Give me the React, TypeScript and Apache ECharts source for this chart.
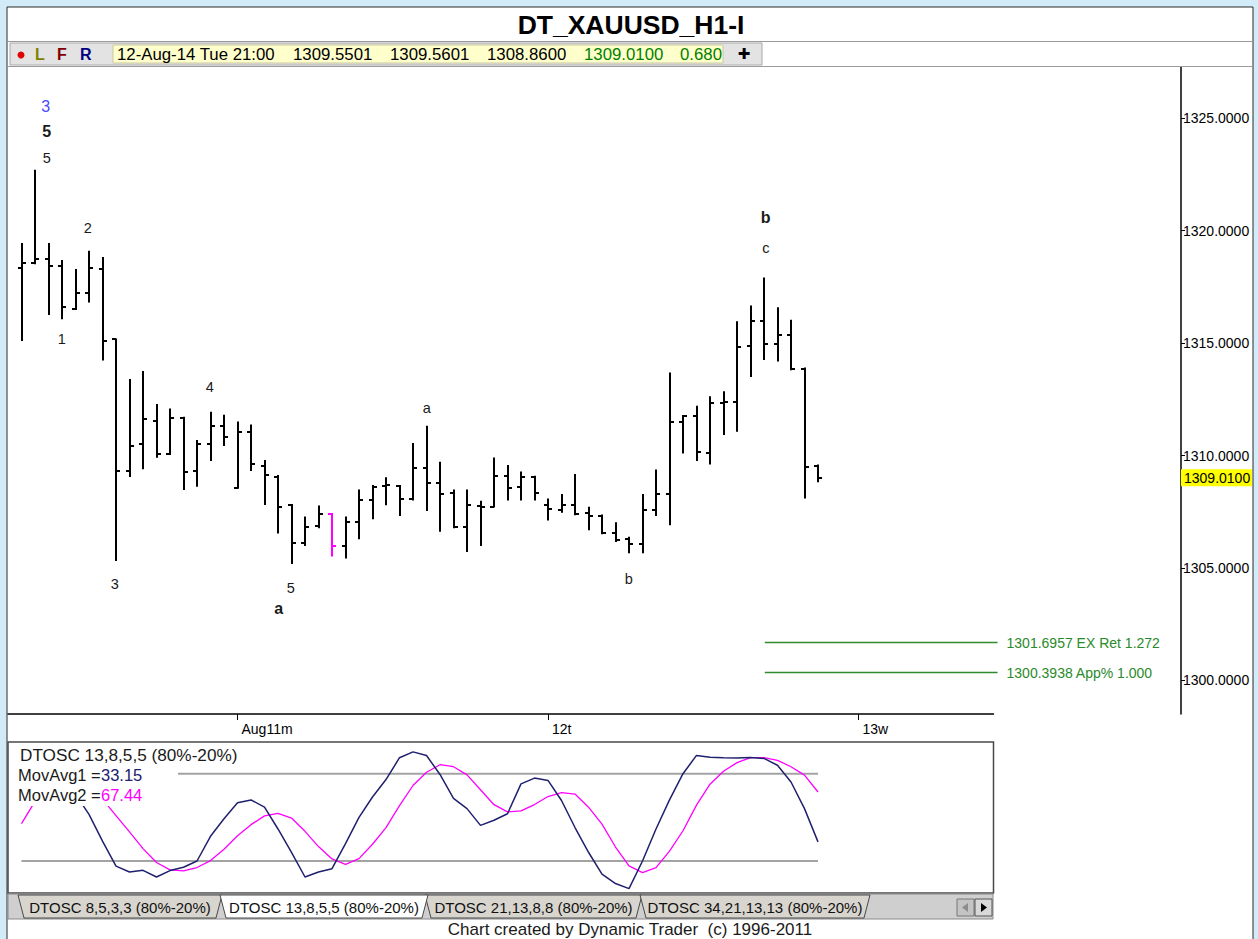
import React, { useEffect, useRef } from "react";
import * as echarts from "echarts";

// ---------- DATA ----------
const barOpen = [1318.35, 1318.54, 1318.75, 1318.42, 1316.51, 1317.24, 1318.30, 1315.16, 1309.33, 1310.50,
  1311.53, 1310.07, 1311.68, 1309.33, 1310.50, 1311.33, 1308.57, 1311.06, 1309.53, 1309.06,
  1307.80, 1306.13, 1306.87, 1307.40, 1305.98, 1307.03, 1308.02, 1308.64, 1308.64, 1308.05,
  1309.46, 1308.76, 1308.32, 1306.81, 1307.77, 1307.73, 1309.10, 1308.61, 1309.06, 1307.80,
  1307.58, 1307.80, 1307.46, 1307.33, 1306.54, 1306.27, 1306.07, 1307.58, 1308.27, 1311.47,
  1311.76, 1310.10, 1312.32, 1312.39, 1314.88, 1315.99, 1314.94, 1315.36, 1313.83, 1309.5501];
const barHigh = [1319.40, 1322.66, 1319.40, 1318.64, 1318.24, 1319.06, 1318.78, 1315.16, 1313.36, 1313.71,
  1312.24, 1312.05, 1311.68, 1310.64, 1311.90, 1311.77, 1311.47, 1311.33, 1309.76, 1309.09,
  1307.80, 1307.25, 1307.73, 1307.40, 1307.24, 1308.44, 1308.64, 1308.99, 1308.64, 1310.51,
  1311.28, 1309.68, 1308.44, 1308.44, 1307.95, 1309.87, 1309.53, 1309.25, 1309.06, 1308.05,
  1308.24, 1309.13, 1307.68, 1307.33, 1306.99, 1306.35, 1308.24, 1309.33, 1313.65, 1311.76,
  1312.17, 1312.59, 1312.81, 1315.92, 1316.62, 1317.87, 1316.54, 1315.99, 1313.87, 1309.5601];
const barLow = [1315.13, 1318.54, 1316.29, 1316.10, 1316.51, 1316.85, 1314.27, 1305.36, 1309.09, 1309.43,
  1309.95, 1310.07, 1308.51, 1308.66, 1309.80, 1310.47, 1308.57, 1309.36, 1307.84, 1306.58,
  1305.22, 1306.02, 1306.81, 1305.55, 1305.47, 1306.32, 1307.21, 1307.83, 1307.36, 1308.05,
  1307.58, 1306.66, 1306.81, 1305.76, 1306.02, 1307.73, 1308.05, 1308.05, 1308.05, 1307.16,
  1307.50, 1307.39, 1306.72, 1306.54, 1306.20, 1305.70, 1305.70, 1307.36, 1306.94, 1310.13,
  1309.80, 1309.65, 1310.96, 1311.10, 1313.53, 1314.29, 1314.22, 1313.83, 1308.13, 1308.86];
const barClose = [1318.54, 1318.75, 1318.42, 1316.62, 1317.24, 1318.35, 1315.09, 1309.33, 1310.44, 1311.62,
  1310.07, 1311.68, 1309.25, 1310.50, 1311.33, 1310.81, 1311.06, 1309.61, 1309.13, 1307.72,
  1306.13, 1306.84, 1307.39, 1305.98, 1307.03, 1308.02, 1308.61, 1308.69, 1308.05, 1309.46,
  1308.76, 1308.27, 1306.81, 1307.80, 1307.73, 1309.10, 1308.57, 1309.03, 1308.35, 1307.61,
  1307.80, 1307.39, 1307.31, 1306.54, 1306.24, 1306.07, 1307.58, 1308.27, 1311.47, 1311.76,
  1310.17, 1312.32, 1312.39, 1314.81, 1315.99, 1314.94, 1315.36, 1313.83, 1309.47, 1309.01];
const highlightBar = 23;

const dayTicks = [16, 39, 62];
const dayLabels = ["Aug11m", "12t", "13w"];
const priceTicks = [1300, 1305, 1310, 1315, 1320, 1325];

const waveText = ["3", "5", "5", "2", "1", "3", "4", "5", "a", "a", "b", "b", "c"];
const waveX = [1.8, 1.87, 1.87, 4.91, 2.99, 6.91, 13.95, 19.95, 19.06, 30.02, 44.99, 55.13, 55.13];
const waveY = [1325.53, 1324.38, 1323.22, 1320.11, 1315.18, 1304.29, 1313.04, 1304.11, 1303.18, 1312.11, 1304.51, 1320.6, 1319.22];
const waveBold = [false, true, false, false, false, false, false, false, true, false, false, true, false];

const targetPrices = [1301.6957, 1300.3938];
const targetLabels = ["1301.6957 EX Ret 1.272", "1300.3938 App% 1.000"];
const targetFrom = 55.06;
const targetTo = 72.3;
const lastClose = 1309.01;

const oscFast = [null, null, null, 72, 66, 52, 33.6, 16.5, 12.4, 13.6,
  9, 13.4, 15.7, 20, 37, 49, 60, 62, 57, 42,
  26, 9, 12.4, 14.7, 32, 50, 64, 76, 91, 95,
  92.5, 79.5, 63, 56, 44.5, 48, 52.5, 73, 77, 75.4,
  61.6, 43, 26, 11, 4.5, 1, 20, 42, 62, 80,
  92.6, 91.3, 91, 90.8, 91.2, 90.5, 85.8, 74.3, 56, 33.15];
const oscSlow = [45.7, 61, 67, 70, 70, 67, 62.5, 51.2, 40, 28.5,
  19, 13.9, 13.2, 15.5, 20.3, 28.1, 37.4, 45, 51, 52.8,
  49.5, 40.4, 29.9, 21.4, 17.7, 21.6, 31.5, 43, 58, 71.9,
  81, 86.2, 84.8, 79.2, 69, 58.7, 53.8, 54.4, 58.8, 64.3,
  67, 66, 57, 45.4, 29.6, 16.6, 12, 15.4, 26.8, 40.8,
  58.4, 72.8, 81.7, 87.6, 91, 91.1, 89.2, 84.8, 79, 67.44];
const oscLevels = [80, 20];

const tabNames = ["DTOSC 8,5,3,3 (80%-20%)", "DTOSC 13,8,5,5 (80%-20%)", "DTOSC 21,13,8,8 (80%-20%)", "DTOSC 34,21,13,13 (80%-20%)"];
const activeTab = 1;

// ---------- STYLE ----------
const SANS = '"Liberation Sans", Arial, sans-serif';
const NAVY = "#20206e";
const MAGENTA = "#ff00ff";
const GREEN = "#2e8b2e";

function txt(x: number, y: number, text: string, font: string, fill: string, align = "left", z = 20) {
  return {
    type: "text", x, y, z,
    style: { text, font, fill, textAlign: align, align, textVerticalAlign: "middle", verticalAlign: "middle" },
  };
}

export default function App() {
  const ref = useRef<HTMLDivElement>(null);
  useEffect(() => {
    if (!ref.current) return;
    const chart = echarts.init(ref.current, undefined, { renderer: "svg" });

    const bars = barOpen.map((o, i) => [i, o, barHigh[i], barLow[i], barClose[i]]);
    const waves = waveX.map((x, i) => [x, waveY[i]]);
    const targets = targetPrices.map((p) => [targetFrom, p]);

    const graphics: any[] = [];
    // white panel
    graphics.push({ type: "rect", z: -5, shape: { x: 7, y: 7, width: 1246, height: 940 }, style: { fill: "#ffffff", stroke: "#2b2b2b", lineWidth: 1 } });
    // title
    graphics.push(txt(631, 25, "DT_XAUUSD_H1-I", `bold 26.5px ${SANS}`, "#000", "center"));
    graphics.push({ type: "line", z: 1, shape: { x1: 8, y1: 41.5, x2: 1252, y2: 41.5 }, style: { stroke: "#9a9a9a", lineWidth: 1 } });
    // toolbar
    graphics.push({ type: "rect", z: 1, shape: { x: 10, y: 43, width: 752, height: 22 }, style: { fill: "#e3e3e3", stroke: "#a8a8a8", lineWidth: 1 } });
    graphics.push({ type: "rect", z: 2, shape: { x: 113, y: 45, width: 610, height: 18 }, style: { fill: "#ffffcc", stroke: "#c8c8a0", lineWidth: 1 } });
    graphics.push({ type: "circle", z: 3, shape: { cx: 21, cy: 55, r: 3.5 }, style: { fill: "#e00000" } });
    graphics.push(txt(35, 54, "L", `bold 16px ${SANS}`, "#808000"));
    graphics.push(txt(57, 54, "F", `bold 16px ${SANS}`, "#800000"));
    graphics.push(txt(80, 54, "R", `bold 16px ${SANS}`, "#000080"));
    const tb = ["12-Aug-14 Tue 21:00", "1309.5501", "1309.5601", "1308.8600", "1309.0100", "0.680"];
    const tbx = [117, 293, 390, 487, 584, 680];
    tb.forEach((t, i) => graphics.push(txt(tbx[i], 54, t, `16.8px ${SANS}`, i >= 4 ? "#008000" : "#000")));
    graphics.push(txt(744, 54, "✚", `bold 15px "DejaVu Sans"`, "#000", "center"));
    graphics.push({ type: "line", z: 1, shape: { x1: 8, y1: 66.5, x2: 1252, y2: 66.5 }, style: { stroke: "#9a9a9a", lineWidth: 1 } });

    // oscillator legend boxes
    graphics.push({ type: "rect", z: 15, shape: { x: 9, y: 743, width: 235, height: 22 }, style: { fill: "#fff" } });
    graphics.push({ type: "rect", z: 15, shape: { x: 9, y: 765, width: 169, height: 41 }, style: { fill: "#fff" } });
    graphics.push(txt(20, 755, "DTOSC 13,8,5,5 (80%-20%)", `17.2px ${SANS}`, "#1a1a1a"));
    graphics.push(txt(18, 775, "MovAvg1 =", `16.5px ${SANS}`, "#1a1a1a"));
    graphics.push(txt(101, 775, "33.15", `16.5px ${SANS}`, NAVY));
    graphics.push(txt(18, 795, "MovAvg2 =", `16.5px ${SANS}`, "#1a1a1a"));
    graphics.push(txt(101, 795, "67.44", `16.5px ${SANS}`, MAGENTA));

    // tab row
    graphics.push({ type: "rect", z: 1, shape: { x: 8, y: 894, width: 985, height: 25 }, style: { fill: "#cfcfcf", stroke: "#8a8a8a", lineWidth: 1 } });
    const tabEdges = [[18, 222], [220, 428], [425, 642], [640, 870]];
    tabNames.forEach((name, i) => {
      const [a, b] = tabEdges[i];
      const active = i === activeTab;
      graphics.push({
        type: "polygon", z: active ? 4 : 3,
        shape: { points: [[a, 895], [b, 895], [b - 6, 918], [a + 6, 918]] },
        style: { fill: active ? "#ffffff" : "#d8d5cf", stroke: "#4a4a4a", lineWidth: 1 },
      });
      graphics.push(txt((a + b) / 2, 907, name, `15px ${SANS}`, "#111", "center", 6));
    });
    graphics.push({ type: "rect", z: 3, shape: { x: 957, y: 899, width: 17, height: 17 }, style: { fill: "#c4c4c4", stroke: "#777", lineWidth: 1 } });
    graphics.push({ type: "rect", z: 3, shape: { x: 975, y: 899, width: 17, height: 17 }, style: { fill: "#d8d8d8", stroke: "#555", lineWidth: 1 } });
    graphics.push({ type: "polygon", z: 4, shape: { points: [[962, 907.5], [968, 903], [968, 912]] }, style: { fill: "#8c8c8c" } });
    graphics.push({ type: "polygon", z: 4, shape: { points: [[987, 907.5], [981, 903], [981, 912]] }, style: { fill: "#000" } });
    // footer
    graphics.push(txt(630, 929, "Chart created by Dynamic Trader  (c) 1996-2011", `17px ${SANS}`, "#1a1a1a", "center"));

    chart.setOption({
      animation: false,
      backgroundColor: "#d2ebf8",
      graphic: { elements: graphics },
      grid: [
        { left: 8, top: 67, width: 985.5, height: 647, show: false },
        { left: 8, top: 742, width: 985.5, height: 151, show: true, backgroundColor: "transparent", borderColor: "#4a4a4a", borderWidth: 1.5 },
      ],
      xAxis: [
        {
          gridIndex: 0, type: "value", min: -1, max: 72,
          axisLine: { show: true, onZero: false, lineStyle: { color: "#000", width: 1.5 } },
          axisTick: { show: true, length: 6, customValues: dayTicks, lineStyle: { color: "#000" } },
          axisLabel: {
            customValues: dayTicks, color: "#000", fontSize: 14, fontFamily: SANS, align: "left", padding: [0, 0, 0, 4], margin: 8,
            formatter: (v: number) => dayLabels[dayTicks.indexOf(Math.round(v))] ?? "",
          },
          splitLine: { show: false },
        },
        { gridIndex: 1, type: "value", min: -1, max: 72, show: false, splitLine: { show: false } },
      ],
      yAxis: [
        {
          gridIndex: 0, type: "value", position: "right", offset: 187.5, min: 1298.511, max: 1327.267,
          axisLine: { show: true, onZero: false, lineStyle: { color: "#000", width: 1.5 } },
          axisTick: { show: true, length: 4, customValues: priceTicks, lineStyle: { color: "#000" } },
          axisLabel: { customValues: priceTicks, color: "#000", fontSize: 14, fontFamily: SANS, margin: 2, formatter: (v: number) => v.toFixed(4) },
          splitLine: { show: false },
        },
        { gridIndex: 1, type: "value", min: -2, max: 101.8, show: false, splitLine: { show: false } },
      ],
      series: [
        {
          type: "custom", name: "bars", xAxisIndex: 0, yAxisIndex: 0, data: bars, encode: { x: 0, y: [1, 2, 3, 4] }, clip: false,
          renderItem: (params: any, api: any) => {
            const i = api.value(0);
            const o = api.coord([i, api.value(1)]);
            const h = api.coord([i, api.value(2)]);
            const l = api.coord([i, api.value(3)]);
            const c = api.coord([i, api.value(4)]);
            const color = params.dataIndex === highlightBar ? MAGENTA : "#000";
            const x = Math.round(h[0]);
            const st = { stroke: color, lineWidth: 2 };
            return {
              type: "group",
              children: [
                { type: "line", shape: { x1: x, y1: h[1] - 1, x2: x, y2: l[1] + 1 }, style: st },
                { type: "line", shape: { x1: x - 4, y1: Math.round(o[1]), x2: x, y2: Math.round(o[1]) }, style: st },
                { type: "line", shape: { x1: x, y1: Math.round(c[1]), x2: x + 4, y2: Math.round(c[1]) }, style: st },
              ],
            };
          },
        },
        {
          type: "custom", name: "waves", xAxisIndex: 0, yAxisIndex: 0, data: waves, encode: { x: 0, y: 1 }, clip: false,
          renderItem: (params: any, api: any) => {
            const k = params.dataIndex;
            const p = api.coord([api.value(0), api.value(1)]);
            const bold = waveBold[k];
            const color = k === 0 ? "#4a4aff" : "#1a1a1a";
            const size = k === 0 || bold ? 16 : 14.5;
            return {
              type: "text", x: p[0], y: p[1],
              style: { text: waveText[k], fill: color, font: `${bold ? "bold " : ""}${size}px ${SANS}`, textAlign: "center", align: "center", textVerticalAlign: "middle", verticalAlign: "middle" },
            };
          },
        },
        {
          type: "custom", name: "targets", xAxisIndex: 0, yAxisIndex: 0, data: targets, encode: { x: 0, y: 1 }, clip: false,
          renderItem: (params: any, api: any) => {
            const k = params.dataIndex;
            const a = api.coord([api.value(0), api.value(1)]);
            const b = api.coord([targetTo, api.value(1)]);
            const y = Math.round(a[1]) + 0.5;
            return {
              type: "group",
              children: [
                { type: "line", shape: { x1: a[0], y1: y, x2: b[0], y2: y }, style: { stroke: GREEN, lineWidth: 1.5 } },
                { type: "text", x: b[0] + 9, y: y, style: { text: targetLabels[k], fill: "#2a8a2a", font: `14px ${SANS}`, textAlign: "left", align: "left", textVerticalAlign: "middle", verticalAlign: "middle" } },
              ],
            };
          },
        },
        {
          type: "custom", name: "last", xAxisIndex: 0, yAxisIndex: 0, data: [[72, lastClose]], encode: { x: 0, y: 1 }, clip: false,
          renderItem: (params: any, api: any) => {
            const p = api.coord([api.value(0), api.value(1)]);
            const x = p[0] + 187.5;
            return {
              type: "group",
              children: [
                { type: "rect", shape: { x: x, y: p[1] - 8.5, width: 71, height: 17 }, style: { fill: "#ffff00" } },
                { type: "text", x: x + 3, y: p[1], style: { text: lastClose.toFixed(4), fill: "#000", font: `14px ${SANS}`, textAlign: "left", align: "left", textVerticalAlign: "middle", verticalAlign: "middle" } },
              ],
            };
          },
        },
        ...oscLevels.map((lv) => ({
          type: "line", xAxisIndex: 1, yAxisIndex: 1, data: [[0, lv], [59, lv]], showSymbol: false, symbol: "none",
          lineStyle: { color: "#a3a3a3", width: 2 }, z: 1, silent: true,
        })),
        {
          type: "line", name: "MovAvg2", xAxisIndex: 1, yAxisIndex: 1, data: oscSlow.map((v, i) => [i, v]), showSymbol: false, symbol: "none",
          lineStyle: { color: MAGENTA, width: 1.3 }, z: 3,
        },
        {
          type: "line", name: "MovAvg1", xAxisIndex: 1, yAxisIndex: 1, data: oscFast.map((v, i) => [i, v]), showSymbol: false, symbol: "none",
          lineStyle: { color: NAVY, width: 1.5 }, z: 4,
        },
      ],
    });
    return () => chart.dispose();
  }, []);
  return <div ref={ref} style={{ position: "absolute", left: 0, top: 0, width: 1258, height: 939 }} />;
}
